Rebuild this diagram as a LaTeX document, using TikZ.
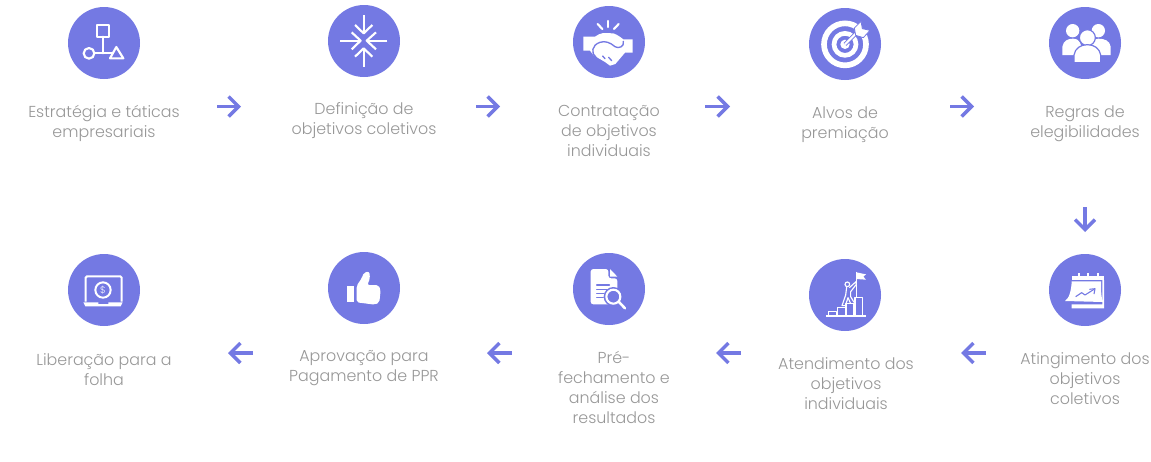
\documentclass[tikz,border=0pt]{standalone}
\usepackage{fontspec}
\setmainfont{Poppins}[UprightFont=* Light]
\usetikzlibrary{arrows.meta}
\definecolor{flowblue}{HTML}{7479E3}
\definecolor{flowgrey}{HTML}{979797}
\tikzset{
  stepdot/.style={circle,fill=flowblue,minimum size=54pt,inner sep=0pt},
  steplabel/.style={text=flowgrey,font=\fontsize{11.9pt}{15pt}\selectfont,align=center,inner sep=0pt},
  flowarrow/.style={draw=flowblue,line width=2.6pt,-{Straight Barb[length=7.5pt,width=15pt,line width=2.6pt]}},
  zoomgrid/.style 2 args={shift={(#1,#2)},x=0.25pt,y=-0.25pt},
  iconline/.style={draw=white,line width=1.6pt,line cap=round,line join=round},
  iconthin/.style={draw=white,line width=0.85pt,line join=round},
  iconfill/.style={fill=white,line join=round},
  icongap/.style={draw=flowblue,line width=1pt,line cap=round,line join=round},
}
\begin{document}
\begin{tikzpicture}[x=0.75pt,y=-0.75pt]
\useasboundingbox (0,0) rectangle (1151,461);

\node[stepdot] (estrategia) at (104,43) {};
\node[stepdot] (definicao) at (364,41) {};
\node[stepdot] (contratacao) at (609,42) {};
\node[stepdot] (alvos) at (845,44) {};
\node[stepdot] (regras) at (1085,43) {};
\node[stepdot] (atingimento) at (1085,290) {};
\node[stepdot] (atendimento) at (845,295) {};
\node[stepdot] (fechamento) at (609,289) {};
\node[stepdot] (aprovacao) at (364,288) {};
\node[stepdot] (liberacao) at (104,290) {};

\node[steplabel] (estrategiatxt) at (104,123) {Estratégia e táticas\\empresariais};
\node[steplabel] (definicaotxt) at (364,121) {Definição de\\objetivos coletivos};
\node[steplabel] (contratacaotxt) at (609,130.5) {Contratação\\de objetivos\\individuais};
\node[steplabel] (alvostxt) at (845,124.5) {Alvos de\\premiação};
\node[steplabel] (regrastxt) at (1085,123.5) {Regras de\\elegibilidades};
\node[steplabel] (atingimentotxt) at (1085,378.5) {Atingimento dos\\objetivos\\coletivos};
\node[steplabel] (atendimentotxt) at (846,383.5) {Atendimento dos\\objetivos\\individuais};
\node[steplabel] (fechamentotxt) at (614,387.5) {Pré-\\fechamento e\\análise dos\\resultados};
\node[steplabel] (aprovacaotxt) at (364,368) {Aprovação para\\Pagamento de PPR};
\node[steplabel] (liberacaotxt) at (104,370) {Liberação para a\\folha};

% arrows
\coordinate (a1) at (217,106.5); \coordinate (b1) at (241,106.5);
\coordinate (a2) at (476,106.5); \coordinate (b2) at (500,106.5);
\coordinate (a3) at (705,106.5); \coordinate (b3) at (730,106.5);
\coordinate (a4) at (950,106.5); \coordinate (b4) at (974,106.5);
\coordinate (a5) at (1085,207); \coordinate (b5) at (1085,232);
\coordinate (a6) at (986,353); \coordinate (b6) at (961,353);
\coordinate (a7) at (741,353); \coordinate (b7) at (716,353);
\coordinate (a8) at (512,353); \coordinate (b8) at (487,353);
\coordinate (a9) at (253,353); \coordinate (b9) at (228,353);
\foreach \n in {1,...,9} \draw[flowarrow] (a\n) -- (b\n);

% organograma
\begin{scope}[zoomgrid={50}{0}]
\draw[iconline] (140,76) rectangle (176,110);
\draw[iconline] (158,110) -- (158,160);
\draw[iconline] (117,160) circle (16);
\draw[iconline] (133,160) -- (186,160);
\draw[iconline] (199,141) -- (180,175) -- (220,175) -- cycle;
\end{scope}

% setas convergentes
\begin{scope}[zoomgrid={50}{0}]
\draw[iconline,line cap=butt] (941,45) -- (941,98);
\draw[iconline,line cap=butt] (915,75) -- (941,100) -- (967,75);
\draw[iconline,line cap=butt] (941,200) -- (941,147);
\draw[iconline,line cap=butt] (915,170) -- (941,145) -- (967,170);
\draw[iconline,line cap=butt] (871,122) -- (930,122);
\draw[iconline,line cap=butt] (905,97) -- (932,122) -- (905,148);
\draw[iconline,line cap=butt] (1012,122) -- (952,122);
\draw[iconline,line cap=butt] (978,97) -- (950,122) -- (978,148);
\end{scope}

% aperto de mao
\begin{scope}[zoomgrid={560}{0}]
\draw[iconline] (113,72) -- (127,87);
\draw[iconline] (143,63) -- (143,81);
\draw[iconline] (176,72) -- (162,87);
\fill[iconfill] (70,110) -- (105,110) .. controls (115,104) and (120,100) .. (130,99) -- (160,100)
  .. controls (172,104) and (182,112) .. (190,118) -- (218,118) -- (218,158) -- (195,158)
  -- (166,192) -- (150,197) -- (135,186) -- (118,176) -- (100,165) -- (90,152) -- (70,152) -- cycle;
\draw[icongap] (108,172) .. controls (92,160) and (95,135) .. (120,127)
  .. controls (135,122) and (150,127) .. (165,140) .. controls (175,147) and (194,140) .. (190,124);
\draw[icongap] (128,168) -- (135,176);
\draw[icongap] (146,172) -- (155,182);
\end{scope}

% alvo
\begin{scope}[zoomgrid={815}{12}]
\draw[draw=white,line width=4.25pt] (90,97) circle (63);
\draw[draw=white,line width=3.5pt] (90,97) circle (33);
\fill[iconfill] (90,97) circle (14);
\draw[draw=flowblue,line width=3pt] (90,97) -- (140,47);
\draw[draw=white,line width=1.5pt] (90,97) -- (135,52);
\filldraw[fill=white,draw=flowblue,line width=0.6pt,line join=round] (118,48) -- (138,28) -- (142,50) -- (165,55)
  -- (145,77) -- (122,70) -- cycle;
\end{scope}

% pessoas
\begin{scope}[zoomgrid={1030}{0}]
\fill[iconfill] (128,92) circle (20);
\fill[iconfill] (205,92) circle (20);
\fill[iconfill] (97,165) -- (97,140) .. controls (100,122) and (115,116) .. (128,116)
  .. controls (150,116) and (155,130) .. (155,165) -- cycle;
\fill[iconfill] (242,165) -- (242,140) .. controls (239,122) and (224,116) .. (205,116)
  .. controls (190,116) and (180,130) .. (180,165) -- cycle;
\filldraw[fill=white,draw=flowblue,line width=0.9pt] (172,113) circle (24);
\filldraw[fill=white,draw=flowblue,line width=0.9pt] (132,188) -- (132,165)
  .. controls (135,145) and (152,134) .. (172,134)
  .. controls (192,134) and (209,145) .. (212,165) -- (212,188) -- cycle;
\end{scope}

% calendario
\begin{scope}[zoomgrid={1030}{200}]
\fill[iconfill] (125,227) -- (222,227) -- (222,240) -- (125,240) -- cycle;
\foreach \bx in {148,175,205} \fill[iconfill] (\bx-3,220) rectangle (\bx+3,227);
\fill[iconfill] (125,244) -- (213,244) .. controls (213,270) and (213,295) .. (220,306)
  -- (105,303) .. controls (118,295) and (124,270) .. (125,244) -- cycle;
\fill[iconfill] (217,240) -- (222,240) -- (222,325) -- (125,325) -- (125,313) -- (217,313) -- cycle;
\draw[draw=flowblue,line width=0.8pt,line join=round] (137,290) -- (155,278) -- (165,285) -- (192,268);
\draw[draw=flowblue,line width=0.8pt,line join=round] (178,268) -- (195,266) -- (192,282);
\end{scope}

% escada e bandeira
\begin{scope}[zoomgrid={560}{245}]
\draw[iconthin] (798,213) -- (917,213);
\draw[iconthin] (805,213) -- (805,200) -- (830,200) -- (830,213);
\draw[iconthin] (832,213) -- (832,188) -- (857,188) -- (857,213);
\draw[iconthin] (858,213) -- (858,175) -- (882,175) -- (882,213);
\draw[iconthin] (885,213) -- (885,157) -- (908,157) -- (908,213);
\draw[iconthin] (889,80) -- (889,155);
\fill[iconfill] (889,82) -- (918,88) -- (910,95) -- (918,104) -- (889,102) -- cycle;
\draw[iconthin] (862,118) circle (7);
\draw[iconthin] (868,128) -- (888,110) -- (889,118) -- (872,140) -- (872,155) -- (882,172);
\draw[iconthin] (860,126) -- (857,150) -- (846,182) -- (856,182) -- (864,158) -- (872,176);
\end{scope}

% documento e lupa
\begin{scope}[zoomgrid={560}{245}]
\fill[iconfill,rounded corners=2pt] (92,72) -- (145,72) -- (145,100) -- (172,100) -- (172,178) -- (92,178) -- cycle;
\fill[iconfill] (150,72) -- (172,95) -- (150,95) -- cycle;
\draw[icongap] (110,120) -- (148,120);
\draw[icongap] (110,133) -- (140,133);
\draw[icongap] (110,145) -- (132,145);
\draw[icongap] (110,158) -- (130,158);
\fill[flowblue] (160,155) circle (29);
\draw[draw=white,line width=1.6pt] (160,155) circle (21);
\draw[draw=white,line width=1.9pt,line cap=round] (177,171) -- (195,190);
\end{scope}

% polegar
\begin{scope}[zoomgrid={50}{245}]
\fill[iconfill] (892,122) rectangle (912,170);
\fill[iconfill,rounded corners=1.5pt] (920,122) -- (935,100) -- (942,82) -- (958,80) -- (960,100) -- (952,120)
  -- (985,120) -- (992,135) -- (988,172) -- (975,179) -- (920,172) -- cycle;
\end{scope}

% laptop
\begin{scope}[zoomgrid={50}{245}]
\draw[draw=white,line width=1.5pt,rounded corners=1pt] (107,170) -- (107,94) -- (215,94) -- (215,170);
\fill[iconfill] (100,172) -- (145,172) -- (145,177) -- (175,177) -- (175,172) -- (218,172) -- (212,184) -- (106,184) -- cycle;
\draw[draw=white,line width=1.5pt] (159,135) circle (23);
\node[text=white,font=\fontsize{7pt}{7pt}\selectfont,inner sep=0pt] (cifrao) at (159,135) {\$};
\end{scope}
\end{tikzpicture}
\end{document}
